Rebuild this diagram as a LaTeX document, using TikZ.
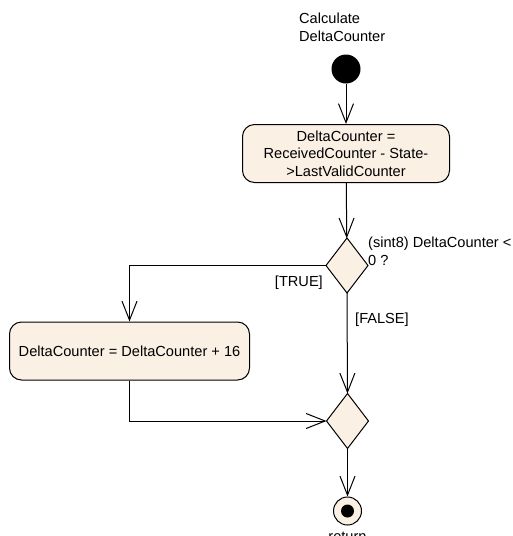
\documentclass[tikz,border=0pt]{standalone}
\usepackage{fontspec}
\setmainfont{Liberation Sans}
\usetikzlibrary{arrows.meta,shapes.geometric}
\definecolor{actfill}{RGB}{251,240,228}
\tikzset{
  flow/.style={line width=1pt,-{Straight Barb[length=19pt,width=15pt,line width=1pt]}},
  actbox/.style={draw,line width=1pt,fill=actfill,rounded corners=12pt,inner sep=0pt,align=center,font=\fontsize{14.6}{17.7}\selectfont},
  decbox/.style={draw,line width=1pt,fill=actfill,diamond,inner sep=0pt,outer sep=0pt,minimum width=42pt,minimum height=55pt},
  lbl/.style={font=\fontsize{14.6}{18}\selectfont,inner sep=0pt}
}
\begin{document}
\begin{tikzpicture}[x=1pt,y=-1pt]
\useasboundingbox (0,0) rectangle (512,536);
\node[lbl,align=left,anchor=north west] (title) at (299,13) {Calculate\\DeltaCounter};
\node[circle,fill=black,minimum size=29pt,inner sep=0pt] (init) at (346,69) {};
\node[actbox,minimum width=207pt,minimum height=58pt] (act1) at (346,153.5) {DeltaCounter =\\ReceivedCounter - State-\\>LastValidCounter};
\node[decbox] (dec) at (347,265.5) {};
\node[actbox,minimum width=240pt,minimum height=58pt] (act2) at (129.5,351) {DeltaCounter = DeltaCounter + 16};
\node[decbox] (merge) at (347.5,421) {};
\node[circle,draw,line width=1pt,fill=actfill,minimum size=28pt,inner sep=0pt] (final) at (347.5,511) {};
\node[circle,fill=black,minimum size=13pt,inner sep=0pt] (finaldot) at (final.center) {};
\node[lbl,anchor=base] (ret) at (347.5,541) {return};
\node[lbl,anchor=base west] (cond1) at (368,247) {(sint8) DeltaCounter <};
\node[lbl,anchor=base west] (cond2) at (368,265) {0 ?};
\node[lbl,anchor=base east] (tlbl) at (323,286) {[TRUE]};
\node[lbl,anchor=base west] (flbl) at (355,323.5) {[FALSE]};
\draw[flow] (init) -- (act1);
\draw[flow] (act1) -- (dec);
\draw[flow] (dec.west) -| (act2.north);
\draw[flow] (dec.south) -- (merge.north);
\draw[flow] (act2.south) |- (merge.west);
\draw[flow] (merge.south) -- (final.north);
\end{tikzpicture}
\end{document}
